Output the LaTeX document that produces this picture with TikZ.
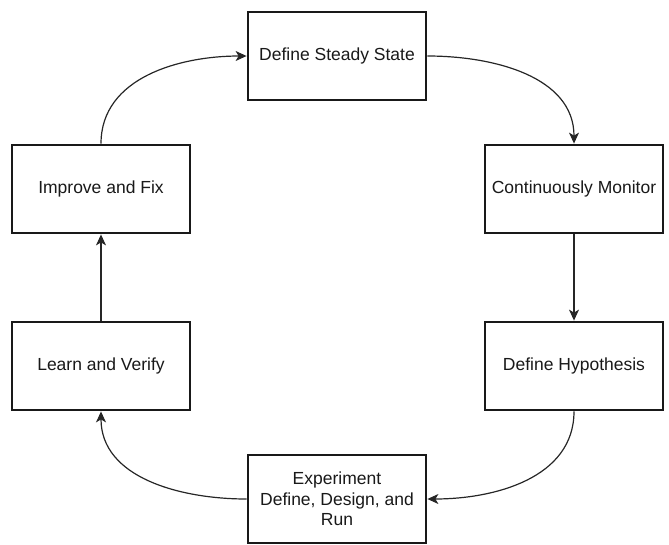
\documentclass[tikz,border=0pt]{standalone}
\usepackage{fontspec}
\setmainfont{Liberation Sans}
\usetikzlibrary{arrows.meta}
\begin{document}
\begin{tikzpicture}[x=1pt,y=-1pt,
  stepbox/.style={draw=black!90,line width=2.8pt,fill=white,minimum width=178pt,minimum height=88pt,
    inner sep=0pt,align=center,text=black!90,font=\fontsize{17.5}{20.5}\selectfont},
  flow/.style={draw=black!85,line width=1.2pt,-{Stealth[length=11pt,width=10pt,inset=3pt]}}]
\useasboundingbox (0,0) rectangle (669,544);
\node[stepbox] (steady) at (337,56) {Define Steady State};
\node[stepbox] (monitor) at (574,189) {Continuously Monitor};
\node[stepbox] (hypo) at (574,366) {Define Hypothesis};
\node[stepbox] (exp) at (337,499) {Experiment\\Define, Design, and\\Run};
\node[stepbox] (learn) at (101,366) {Learn and Verify};
\node[stepbox] (improve) at (101,189) {Improve and Fix};
\draw[flow] (improve.north) to[out=90,in=180] (steady.west);
\draw[flow] (steady.east) to[out=0,in=90] (monitor.north);
\draw[flow] (monitor.south) -- (hypo.north);
\draw[flow] (hypo.south) to[out=-90,in=0] (exp.east);
\draw[flow] (exp.west) to[out=180,in=-90] (learn.south);
\draw[flow] (learn.north) -- (improve.south);
\end{tikzpicture}
\end{document}
